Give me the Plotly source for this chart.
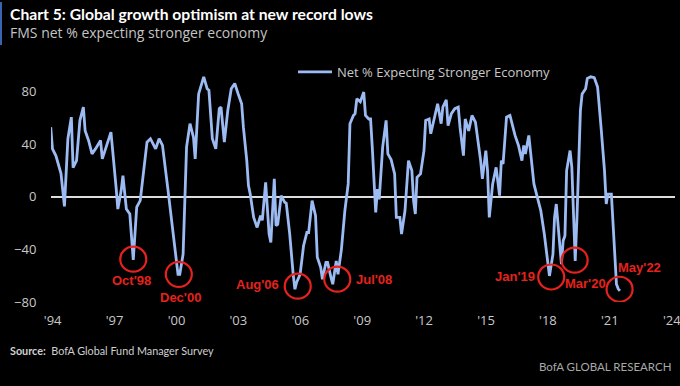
import plotly.graph_objects as go

# ---- data ----
dates = [
    "1994-10", "1994-11", "1995-01", "1995-03", "1995-04", "1995-06", "1995-08", "1995-10", "1995-11",
    "1996-01", "1996-03", "1996-05", "1996-06", "1996-08", "1996-10", "1996-12",
    "1997-03", "1997-04", "1997-06", "1997-08", "1997-09", "1997-12",
    "1998-01", "1998-03", "1998-04", "1998-06", "1998-08", "1998-10", "1998-12",
    "1999-02", "1999-04", "1999-06", "1999-08", "1999-11",
    "2000-01", "2000-03", "2000-06", "2000-09", "2000-11", "2000-12",
    "2001-01", "2001-03", "2001-05", "2001-07", "2001-09", "2001-10", "2001-12",
    "2002-02", "2002-03", "2002-05", "2002-06", "2002-08", "2002-10", "2002-12",
    "2003-01", "2003-03", "2003-05", "2003-07", "2003-09", "2003-11",
    "2004-01", "2004-02", "2004-04", "2004-05", "2004-06", "2004-08", "2004-10", "2004-12",
    "2005-01", "2005-03", "2005-05", "2005-06", "2005-08", "2005-09", "2005-10", "2005-12",
    "2006-02", "2006-03", "2006-05", "2006-07", "2006-08", "2006-09", "2006-11",
    "2007-01", "2007-03", "2007-04", "2007-06", "2007-08", "2007-09", "2007-11", "2007-12",
    "2008-02", "2008-03", "2008-05", "2008-06", "2008-08", "2008-09", "2008-11",
    "2009-01", "2009-03", "2009-04", "2009-06", "2009-07", "2009-08", "2009-10", "2009-12",
    "2010-01", "2010-03", "2010-04", "2010-05", "2010-07", "2010-08", "2010-09", "2010-11",
    "2011-01", "2011-02", "2011-04", "2011-06", "2011-07", "2011-09", "2011-10", "2011-12",
    "2012-02", "2012-04", "2012-05", "2012-06", "2012-07", "2012-09", "2012-11", "2012-12",
    "2013-02", "2013-03", "2013-05", "2013-07", "2013-09", "2013-10", "2013-12",
    "2014-01", "2014-03", "2014-05", "2014-07", "2014-08", "2014-10", "2014-11",
    "2015-01", "2015-03", "2015-05", "2015-06", "2015-08", "2015-09", "2015-11", "2015-12",
    "2016-01", "2016-03", "2016-04", "2016-05", "2016-07", "2016-08", "2016-09", "2016-11",
    "2017-01", "2017-02", "2017-04", "2017-06", "2017-08", "2017-09", "2017-10", "2017-12",
    "2018-01", "2018-03", "2018-05", "2018-07", "2018-09", "2018-11", "2018-12",
    "2019-02", "2019-03", "2019-04", "2019-06", "2019-07", "2019-08", "2019-09", "2019-10", "2019-12",
    "2020-01", "2020-03", "2020-04", "2020-05", "2020-06", "2020-07", "2020-09", "2020-10", "2020-12",
    "2021-02", "2021-04", "2021-06", "2021-08", "2021-09", "2021-10", "2021-12",
    "2022-01", "2022-02", "2022-03", "2022-04", "2022-05",
]
net_pct = [
    52.8, 36.3, 31, 22, 17.5, -7.4, 44, 60.4, 22,
    27.4, 58, 68, 50, 42.7, 32.5, 36.3,
    42.7, 28.7, 36.3, 44, 49, 7,
    -9.4, 4.6, 16, -9.4, -13.2, -48, -8,
    -3, 20, 41.4, 44, 36.3,
    44, 39, 7, -26, -43.7, -59,
    -59, -43.7, 37.6, 55.4, 45, 28.7, 78,
    87, 91, 82, 80.8, 44, 36.3, 66.8,
    68, 41.4, 65.5, 82, 86, 78,
    70.6, 52.8, 27.4, 8.4, 2, -15.8, -23.4, -14.5,
    -18, 10.9, -28.4, -34.8, 13.5, -22, -21, 0.8,
    -4.3, -5, -28.4, -58.9, -70.3, -65, -59,
    -37.3, -27.2, -27.2, -3, -14.5, -46, -53.9, -62.7,
    -50, -50, -61.5, -66.5, -48.8, -59, -40,
    -10.7, 9.7, 55.4, 61.7, 63, 74.4, 72, 79.5,
    61.7, 59, 59, 37.6, -12, 5.8, -2, 37.6,
    57.9, 32.5, 28, 17.3, -15.8, -15.8, -28.4, -10.7,
    27.4, 19.8, -3, -13.2, 14.7, 17.3, 35, 57.9,
    59, 47.8, 59, 70.6, 55.4, 68, 73.6,
    54, 63, 66.8, 68, 52.8, 31.2, 59,
    50, 61.7, 56.6, 47.8, 27.4, 13.5, 35, 19.8,
    -15.8, 9.7, 17.3, 22.3, 0.8, 27.4, 24.8, 60.4,
    61.7, 56.6, 46.5, 38.9, 27.4, 38.9, 32.5, 46.5,
    32.5, 9.7, -0.5, -10.7, -28.4, -48.8, -60.2,
    -43.7, -15.8, -5.6, -38.6, -51.3, -33.5, -29.7, 19.8, 35,
    22.3, -48.8, -15.8, 30, 65.5, 78, 82, 89.7, 91,
    90.4, 83.3, 52.8, 19.8, -5.6, 2, 2,
    -23.4, -48.8, -66.5, -70, -71.6,
]

callout_labels = ["Oct'98", "Dec'00", "Aug'06", "Jul'08", "Jan'19", "Mar'20", "May'22"]
callout_dates = ["1998-10-01", "2000-12-15", "2006-09-20", "2008-08-20", "2019-01-01", "2020-02-20", "2022-04-25"]
callout_values = [-47.5, -59, -68, -62.7, -61, -48.2, -70.3]
label_xshift = [-2, 2, -40, 37, -36, 11, 20]
label_yshift = [-21, -23, 2, 0, 0, -23, 22]

tick_years = [1994, 1997, 2000, 2003, 2006, 2009, 2012, 2015, 2018, 2021, 2024]
tick_vals = [f"{y}-11-04" for y in tick_years]
tick_text = [f"'{str(y)[2:]}" for y in tick_years]
y_ticks = [-80, -40, 0, 40, 80]

# ---- figure ----
W, H = 680, 386
ML, MR, MT, MB = 51, 5, 65, 84.3
pw = W - ML - MR
ph = H - MT - MB


def px(x):
    return (x - ML) / pw


def py(y):
    return (H - MB - y) / ph


TXT = "#c8c8c8"
RED = "#e5221d"
LINE = "#9dbbf3"
BOLDHEAD = "Lato, Roboto, sans-serif"

fig = go.Figure()
fig.add_trace(go.Scatter(
    x=dates, y=net_pct, mode="lines",
    name="Net % Expecting Stronger Economy",
    line=dict(color=LINE, width=2.8),
    hoverinfo="skip",
))

shapes = []
annotations = []
for lab, d, v, dx, dy in zip(callout_labels, callout_dates, callout_values, label_xshift, label_yshift):
    shapes.append(dict(
        type="circle", xref="x", yref="y",
        xsizemode="pixel", ysizemode="pixel",
        xanchor=d, yanchor=v, x0=-13, x1=13, y0=-12.5, y1=12.5,
        line=dict(color=RED, width=2.2),
    ))
    annotations.append(dict(
        x=d, y=v, xref="x", yref="y", text="<b>" + lab + "</b>", showarrow=False,
        xshift=dx, yshift=dy,
        font=dict(family="Liberation Sans, Arial, sans-serif", size=13, color=RED),
    ))

# header / footer text
annotations += [
    dict(xref="paper", yref="paper", x=px(8), y=py(14), xanchor="left", yanchor="middle",
         text="<b>Chart 5: Global growth optimism at new record lows</b>", showarrow=False,
         font=dict(family=BOLDHEAD, size=15.7, color="#ffffff")),
    dict(xref="paper", yref="paper", x=px(8), y=py(33), xanchor="left", yanchor="middle",
         text="FMS net % expecting stronger economy", showarrow=False,
         font=dict(family="Open Sans, sans-serif", size=14, color="#c4c4c4")),
    dict(xref="paper", yref="paper", x=px(8), y=py(350), xanchor="left", yanchor="middle",
         text="<b>Source:</b>  BofA Global Fund Manager Survey", showarrow=False,
         font=dict(family="Lato, sans-serif", size=10.8, color="#d0d0d0")),
    dict(xref="paper", yref="paper", x=px(673), y=py(366), xanchor="right", yanchor="middle",
         text="BofA GLOBAL RESEARCH", showarrow=False,
         font=dict(family="Lato, sans-serif", size=11.5, color="#a8a8a8")),
]
shapes.append(dict(type="rect", xref="paper", yref="paper",
                   x0=px(0), x1=px(2), y0=py(45), y1=py(2),
                   fillcolor="#3b64b0", line=dict(width=0)))

fig.update_layout(
    width=W, height=H,
    margin=dict(l=ML, r=MR, t=MT, b=MB),
    paper_bgcolor="#000000", plot_bgcolor="#000000",
    showlegend=True,
    legend=dict(x=px(293), y=py(72), xanchor="left", yanchor="middle",
                bgcolor="rgba(0,0,0,0)", font=dict(family="Open Sans, sans-serif", size=13, color=TXT),
                itemwidth=34),
    xaxis=dict(type="date", range=["1994-10-06", "2024-12-31"], automargin=False,
               tickvals=tick_vals, ticktext=tick_text, ticklabeloverflow="allow",
               showgrid=False, zeroline=False, showline=False,
               ticks="outside", ticklen=6, tickcolor="rgba(0,0,0,0)",
               tickfont=dict(family="Open Sans, sans-serif", size=13, color=TXT)),
    yaxis=dict(range=[-80, 100], tickvals=y_ticks, automargin=False,
               showgrid=False, zeroline=True, zerolinecolor="#dcdcdc", zerolinewidth=2,
               showline=False, ticks="outside", ticklen=11, tickcolor="rgba(0,0,0,0)",
               tickfont=dict(family="Open Sans, sans-serif", size=13, color=TXT)),
    shapes=shapes,
    annotations=annotations,
)

fig.write_html("out.html", config={"displayModeBar": False},
               post_script="document.body.style.margin='0';document.body.style.background='#000';")
